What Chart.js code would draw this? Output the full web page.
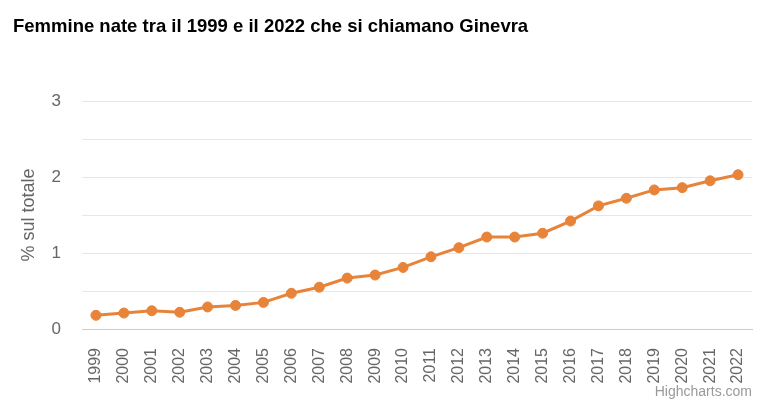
<!DOCTYPE html>
<html>
<head>
<meta charset="utf-8">
<script src="https://cdn.jsdelivr.net/npm/chart.js@4/dist/chart.umd.min.js"></script>
<style>
  html, body { margin: 0; padding: 0; background: #ffffff; }
  #wrap { width: 767px; height: 409px; position: relative; }
</style>
</head>
<body>
<div id="wrap"><canvas id="c" width="767" height="409"></canvas></div>
<script>
const chartTitle = "Femmine nate tra il 1999 e il 2022 che si chiamano Ginevra";
const yAxisTitle = "% sul totale";
const creditText = "Highcharts.com";
const years = ["1999","2000","2001","2002","2003","2004","2005","2006","2007","2008","2009","2010",
               "2011","2012","2013","2014","2015","2016","2017","2018","2019","2020","2021","2022"];
const ginevra = [0.18,0.21,0.24,0.22,0.29,0.31,0.35,0.47,0.55,0.67,0.71,0.81,
                 0.95,1.07,1.21,1.21,1.26,1.42,1.62,1.72,1.83,1.86,1.95,2.03];
const yMin = 0, yMax = 3, yStep = 0.5;

const FONT = "'Liberation Sans', Arial, Helvetica, sans-serif";
const ORANGE = "rgb(232,131,58)";

const textPlugin = {
  id: 'textPlugin',
  afterDraw(chart) {
    const ctx = chart.ctx;
    ctx.save();
    ctx.fillStyle = '#000000';
    ctx.font = "bold 18.5px " + FONT;
    ctx.textAlign = 'left';
    ctx.textBaseline = 'alphabetic';
    ctx.fillText(chartTitle, 13, 32);
    ctx.fillStyle = '#999999';
    ctx.font = "14px " + FONT;
    ctx.textAlign = 'right';
    ctx.fillText(creditText, 752, 396);
    ctx.restore();
  }
};

new Chart(document.getElementById('c'), {
  type: 'line',
  data: {
    labels: years,
    datasets: [{
      label: 'Ginevra',
      data: ginevra,
      borderColor: ORANGE,
      backgroundColor: ORANGE,
      borderWidth: 3,
      pointRadius: 5,
      pointBorderWidth: 1,
      pointBackgroundColor: ORANGE,
      pointBorderColor: ORANGE,
      tension: 0,
      fill: false
    }]
  },
  options: {
    responsive: false,
    devicePixelRatio: 1,
    animation: false,
    layout: { padding: { top: 101, left: 0, right: 15, bottom: 0 } },
    plugins: {
      legend: { display: false },
      title: { display: false },
      tooltip: { enabled: false }
    },
    scales: {
      x: {
        offset: true,
        grid: { display: false, drawTicks: false },
        border: { display: true, color: '#cccccc', width: 1 },
        ticks: {
          autoSkip: false,
          minRotation: 90,
          maxRotation: 90,
          padding: 19,
          color: '#666666',
          font: { family: FONT, size: 16 }
        },
        afterFit(scale) {
          scale.height = 80;
          scale.paddingLeft = 0;
          scale.paddingRight = 0;
        }
      },
      y: {
        min: yMin,
        max: yMax,
        grid: { color: '#e6e6e6', lineWidth: 1, drawTicks: false },
        border: { display: false },
        ticks: {
          stepSize: yStep,
          padding: 21,
          color: '#666666',
          font: { family: FONT, size: 17 },
          callback: (v) => (Number.isInteger(v) ? String(v) : '')
        },
        title: {
          display: true,
          text: yAxisTitle,
          color: '#666666',
          font: { family: FONT, size: 18 },
          padding: { top: 18, bottom: 0 }
        },
        afterFit(scale) { scale.width = 82; }
      }
    }
  },
  plugins: [textPlugin]
});
</script>
</body>
</html>
